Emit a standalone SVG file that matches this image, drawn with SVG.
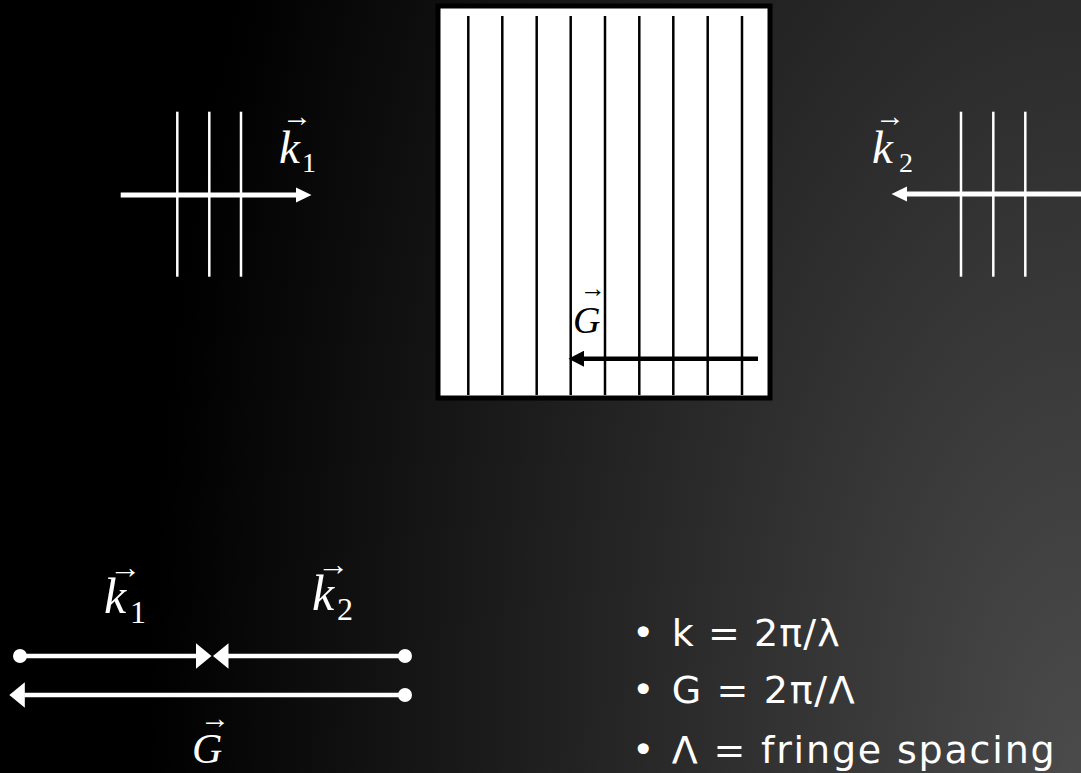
<svg xmlns="http://www.w3.org/2000/svg" width="1081" height="773" viewBox="0 0 1081 773">
<defs>
<radialGradient id="bg" gradientUnits="userSpaceOnUse" cx="0" cy="0" r="1" gradientTransform="translate(1081 773) scale(930 1830)">
<stop offset="0" stop-color="#4b4b4b"/>
<stop offset="1" stop-color="#000000"/>
</radialGradient>
<marker id="ahSW" viewBox="0 -8 16 16" refX="0.5" refY="0" markerWidth="16" markerHeight="16" markerUnits="userSpaceOnUse" orient="auto"><path d="M0,-7.5 L15.5,0 L0,7.5 z" fill="#ffffff"/></marker>
<marker id="ahSB" viewBox="0 -8 16 16" refX="0.5" refY="0" markerWidth="16" markerHeight="16" markerUnits="userSpaceOnUse" orient="auto"><path d="M0,-8 L15.5,0 L0,8 z" fill="#000000"/></marker>
<marker id="ahBW" viewBox="0 -13 16 26" refX="0.5" refY="0" markerWidth="16" markerHeight="26" markerUnits="userSpaceOnUse" orient="auto"><path d="M0,-12.8 L15.5,0 L0,12.8 z" fill="#ffffff"/></marker>
</defs>
<style>
.wave{stroke:#ffffff;stroke-width:2.5;fill:none}
.fringe{stroke:#000000;stroke-width:2.5;fill:none}
.vw{stroke:#ffffff;stroke-width:5;fill:none}
.vb{stroke:#000000;stroke-width:4.5;fill:none}
.vbot{stroke:#ffffff;stroke-width:4.5;fill:none}
.dot{fill:#ffffff}
.mi{font-family:"Liberation Serif","DejaVu Serif",serif;font-style:italic;fill:#ffffff}
.sub{font-family:"Liberation Serif","DejaVu Serif",serif;fill:#ffffff}
.acc{font-family:"Liberation Serif","DejaVu Serif",serif;fill:#ffffff}
.blk{fill:#000000}
.bul{font-family:"DejaVu Sans","Noto Sans",sans-serif;font-size:38px;fill:#ffffff}
</style>
<rect x="0" y="0" width="1081" height="773" fill="url(#bg)"/>

<g id="wave-k1">
<line class="wave" x1="177.3" y1="111.7" x2="177.3" y2="276.7"/>
<line class="wave" x1="209.3" y1="111.7" x2="209.3" y2="276.7"/>
<line class="wave" x1="241" y1="111.7" x2="241" y2="276.7"/>
</g>
<g id="wave-k2">
<line class="wave" x1="961" y1="111.7" x2="961" y2="276.7"/>
<line class="wave" x1="993.3" y1="111.7" x2="993.3" y2="276.7"/>
<line class="wave" x1="1025.3" y1="111.7" x2="1025.3" y2="276.7"/>
</g>

<g id="grating">
<rect x="438" y="6" width="332" height="392" fill="#ffffff" stroke="#000000" stroke-width="5"/>
<line class="fringe" x1="468.3" y1="16" x2="468.3" y2="395"/>
<line class="fringe" x1="502.3" y1="16" x2="502.3" y2="395"/>
<line class="fringe" x1="536.7" y1="16" x2="536.7" y2="395"/>
<line class="fringe" x1="570.7" y1="16" x2="570.7" y2="395"/>
<line class="fringe" x1="605" y1="16" x2="605" y2="395"/>
<line class="fringe" x1="639.3" y1="16" x2="639.3" y2="395"/>
<line class="fringe" x1="673.3" y1="16" x2="673.3" y2="395"/>
<line class="fringe" x1="707.7" y1="16" x2="707.7" y2="395"/>
<line class="fringe" x1="742" y1="16" x2="742" y2="395"/>
</g>

<g id="connectors">
<line class="vw" x1="120.7" y1="195" x2="296.5" y2="195" marker-end="url(#ahSW)"/>
<line class="vw" x1="1081" y1="194" x2="906.5" y2="194" marker-end="url(#ahSW)"/>
<line class="vb" x1="758" y1="358.7" x2="583.5" y2="358.7" marker-end="url(#ahSB)"/>
<line class="vbot" x1="20" y1="656" x2="196.5" y2="656" marker-end="url(#ahBW)"/>
<line class="vbot" x1="405" y1="656" x2="228" y2="656" marker-end="url(#ahBW)"/>
<line class="vbot" x1="405" y1="695" x2="24.3" y2="695" marker-end="url(#ahBW)"/>
<circle class="dot" cx="20" cy="656" r="7"/>
<circle class="dot" cx="405" cy="656" r="7"/>
<circle class="dot" cx="405" cy="695" r="7"/>
</g>

<g id="label-k1-top">
<text class="acc" x="282" y="126" font-size="30">→</text>
<text class="mi" x="279" y="163" font-size="47">k</text>
<text class="sub" x="302" y="171.7" font-size="28">1</text>
</g>
<g id="label-k2-top">
<text class="acc" x="875" y="126" font-size="30">→</text>
<text class="mi" x="872" y="163" font-size="47">k</text>
<text class="sub" x="899" y="171.7" font-size="28">2</text>
</g>
<g id="label-G-box">
<text class="acc blk" x="580" y="297" font-size="26">→</text>
<text class="mi blk" x="573" y="333.3" font-size="38">G</text>
</g>

<g id="label-k1-bottom">
<text class="acc" x="109" y="578" font-size="32">→</text>
<text class="mi" x="104" y="613.3" font-size="50">k</text>
<text class="sub" x="130" y="623.3" font-size="32">1</text>
</g>
<g id="label-k2-bottom">
<text class="acc" x="317" y="575" font-size="32">→</text>
<text class="mi" x="312" y="610" font-size="50">k</text>
<text class="sub" x="337" y="620" font-size="32">2</text>
</g>
<g id="label-G-bottom">
<text class="acc" x="200" y="728" font-size="30">→</text>
<text class="mi" x="192" y="762.7" font-size="42">G</text>
</g>

<g id="bullets">
<text class="bul" x="643.3" y="645.7" text-anchor="middle">•</text>
<text class="bul" x="671.7" y="645.7" textLength="168" lengthAdjust="spacing">k = 2π/λ</text>
<text class="bul" x="643.3" y="702.7" text-anchor="middle">•</text>
<text class="bul" x="671.7" y="702.7" textLength="183" lengthAdjust="spacing">G = 2π/Λ</text>
<text class="bul" x="643.3" y="763.3" text-anchor="middle">•</text>
<text class="bul" x="671.7" y="763.3" textLength="383" lengthAdjust="spacing">Λ = fringe spacing</text>
</g>
</svg>
